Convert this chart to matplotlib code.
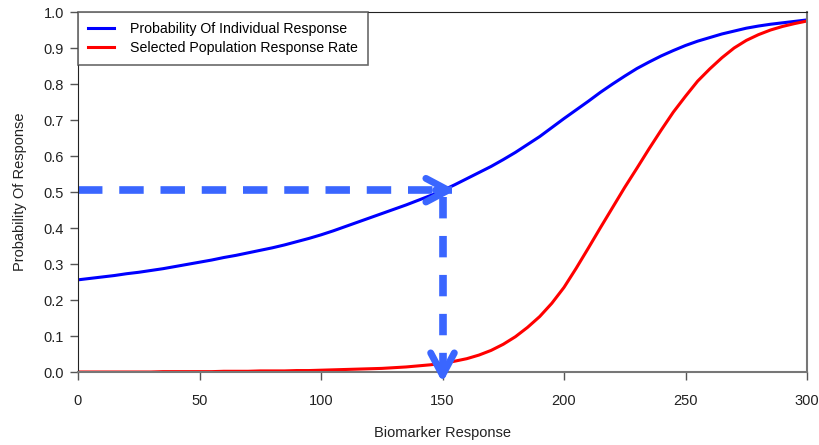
import matplotlib.pyplot as plt

plt.rcParams['font.family'] = ['Liberation Sans', 'DejaVu Sans']

# biomarker grid and read-off response curves
biomarker = list(range(0, 301, 5))
individual = [0.256, 0.260, 0.264, 0.268, 0.273, 0.277, 0.282, 0.287, 0.293, 0.299,
              0.305, 0.311, 0.318, 0.324, 0.331, 0.338, 0.345, 0.353, 0.362, 0.371,
              0.381, 0.392, 0.404, 0.416, 0.428, 0.440, 0.452, 0.464, 0.477, 0.490,
              0.504, 0.520, 0.537, 0.554, 0.571, 0.590, 0.610, 0.632, 0.654, 0.679,
              0.704, 0.728, 0.752, 0.777, 0.800, 0.822, 0.843, 0.861, 0.878, 0.893,
              0.907, 0.919, 0.929, 0.939, 0.947, 0.955, 0.961, 0.966, 0.970, 0.974, 0.978]
population = [0.000, 0.000, 0.000, 0.000, 0.000, 0.000, 0.000, 0.001, 0.001, 0.001,
              0.001, 0.001, 0.002, 0.002, 0.002, 0.003, 0.003, 0.003, 0.004, 0.004,
              0.005, 0.006, 0.007, 0.008, 0.009, 0.010, 0.012, 0.014, 0.017, 0.020,
              0.024, 0.030, 0.037, 0.047, 0.060, 0.077, 0.098, 0.124, 0.154, 0.191,
              0.235, 0.288, 0.344, 0.401, 0.457, 0.513, 0.566, 0.620, 0.672, 0.722,
              0.766, 0.808, 0.842, 0.873, 0.900, 0.921, 0.937, 0.950, 0.960, 0.968, 0.975]

cutoff = 150
cutoff_prob = 0.505

x_ticks = [0, 50, 100, 150, 200, 250, 300]
y_ticks = [i / 10 for i in range(11)]

fig = plt.figure(figsize=(8.19, 4.45), dpi=100)
ax = fig.add_axes([78 / 819, 1 - 372 / 445, (807 - 78) / 819, (372 - 12) / 445])

ax.plot(biomarker, individual, color='#0000ff', lw=2.2, label='Probability Of Individual Response')
ax.plot(biomarker, population, color='#ff0000', lw=2.2, label='Selected Population Response Rate')

# dashed arrows showing the cutoff
arrow_col = '#3a66ff'
head = '->,head_length=1.6,head_width=0.85'
ax.plot([0, cutoff + 4], [cutoff_prob, cutoff_prob], color=arrow_col, lw=5.5,
        dashes=(3.2, 2.2), clip_on=False, solid_capstyle='butt')
ax.annotate('', xy=(cutoff + 6.5, cutoff_prob), xytext=(cutoff - 4, cutoff_prob),
            arrowprops=dict(arrowstyle=head, mutation_scale=10,
                            color=arrow_col, lw=5), annotation_clip=False)
ax.plot([cutoff, cutoff], [0.487, 0.0], color=arrow_col, lw=5.5,
        dashes=(2.8, 2.3), clip_on=False)
ax.annotate('', xy=(cutoff, -0.037), xytext=(cutoff, 0.02),
            arrowprops=dict(arrowstyle=head, mutation_scale=10,
                            color=arrow_col, lw=5), annotation_clip=False)

ax.set_xlim(0, 300)
ax.set_ylim(0, 1)
ax.set_xticks(x_ticks)
ax.set_yticks(y_ticks)
ax.set_yticklabels([f'{v:.1f}' for v in y_ticks])
ax.tick_params(direction='out', length=6, width=1, colors='#555555', labelcolor='#222222',
               labelsize=10.5, pad=4)
ax.tick_params(axis='x', pad=10)
for side in ['top', 'left']:
    ax.spines[side].set_color('#222222')
for side in ['bottom', 'right']:
    ax.spines[side].set_color('#777777')
    ax.spines[side].set_linewidth(1.5)

ax.set_xlabel('Biomarker Response', fontsize=10.5, color='#222222', labelpad=13)
ax.set_ylabel('Probability Of Response', fontsize=10.5, color='#222222', labelpad=12)

leg = ax.legend(loc='upper left', fontsize=10.2, frameon=True, fancybox=False,
                borderaxespad=0, handlelength=1.85, handletextpad=1.1,
                borderpad=0.7, labelspacing=0.35)
leg.get_frame().set_edgecolor('#444444')
leg.get_frame().set_linewidth(1.2)

fig.savefig('out.png', dpi=100)
